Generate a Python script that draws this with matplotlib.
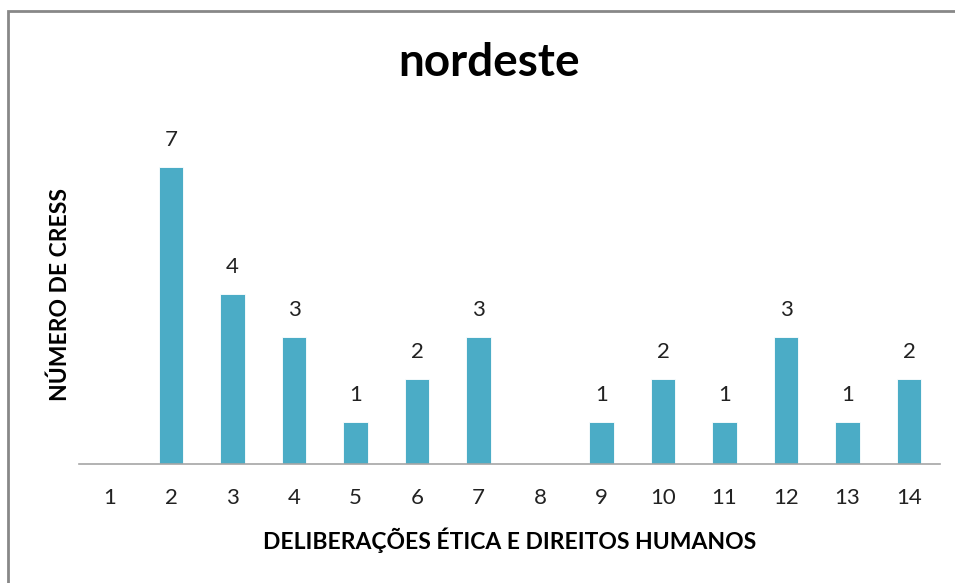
import matplotlib
matplotlib.use("Agg")
from matplotlib import pyplot as plt
from matplotlib.patches import Rectangle

plt.rcParams['font.family'] = ['Lato', 'DejaVu Sans']

categories = [str(i) for i in range(1, 15)]
values = [0, 7, 4, 3, 1, 2, 3, 0, 1, 2, 1, 3, 1, 2]

BAR_COLOR = "#4BACC6"

fig = plt.figure(figsize=(9.55, 5.83), dpi=100)
ax = fig.add_axes([0.0827, 0.204, 0.9013, 0.583])

x = list(range(len(categories)))
bars = ax.bar(x, values, width=0.4, color=BAR_COLOR, edgecolor="white", linewidth=0.6)

for xi, v in zip(x, values):
    if v > 0:
        ax.annotate(str(v), (xi, v), xytext=(0, 12), textcoords="offset points",
                    ha="center", va="bottom", fontsize=16, color="#222222")

ax.set_xlim(-0.5, len(categories) - 0.5)
ax.set_ylim(0, 8)
ax.set_xticks(x)
ax.set_xticklabels(categories, fontsize=16, color="#222222")
ax.set_yticks([])
ax.tick_params(axis="x", length=0, pad=17)

for side in ["top", "right", "left"]:
    ax.spines[side].set_visible(False)
ax.spines["bottom"].set_color("#A6A6A6")
ax.spines["bottom"].set_linewidth(1.2)

ax.set_xlabel("DELIBERAÇÕES ÉTICA E DIREITOS HUMANOS", fontsize=16.5,
              fontweight="bold", labelpad=14)
ax.set_ylabel("NÚMERO DE CRESS", fontsize=16.5, fontweight="bold", labelpad=6)

fig.text(0.512, 0.892, "nordeste", ha="center", va="center",
         fontsize=33, fontweight="bold")

# outer chart border (cut off at right and bottom like the screenshot)
fig.patches.append(Rectangle((8 / 955, -0.05), 1.1, (583 - 11) / 583 + 0.05,
                             transform=fig.transFigure, fill=False,
                             edgecolor="#888888", linewidth=2))

fig.savefig("out.png", dpi=100)
